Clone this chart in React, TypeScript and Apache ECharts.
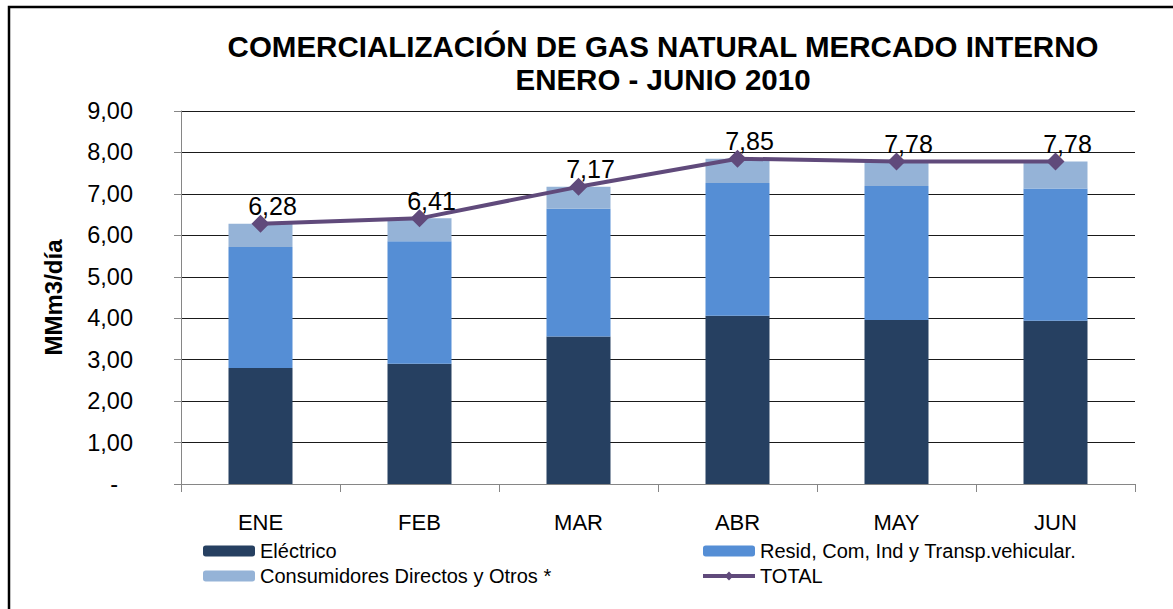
import React, { useEffect, useRef } from "react";
import * as echarts from "echarts";

const categories = ["ENE", "FEB", "MAR", "ABR", "MAY", "JUN"];
const electrico = [2.8, 2.9, 3.56, 4.06, 3.96, 3.94];
const residencial = [2.92, 2.96, 3.08, 3.2, 3.23, 3.19];
const consumidores = [0.56, 0.55, 0.53, 0.59, 0.59, 0.65];
const total = [6.28, 6.41, 7.17, 7.85, 7.78, 7.78];

const titleLines = ["COMERCIALIZACIÓN DE GAS NATURAL MERCADO INTERNO", "ENERO - JUNIO 2010"];
const yAxisName = "MMm3/día";
const seriesNames = [
  "Eléctrico",
  "Resid, Com, Ind y Transp.vehicular.",
  "Consumidores Directos y Otros *",
  "TOTAL",
];

const FONT = "'Liberation Sans', Arial, sans-serif";
const fmt = (v: number) => v.toFixed(2).replace(".", ",");

export default function App() {
  const ref = useRef<HTMLDivElement>(null);
  useEffect(() => {
    if (!ref.current) return;
    const chart = echarts.init(ref.current, undefined, { renderer: "svg" });
    const legendCommon = {
      orient: "vertical",
      top: 541,
      padding: 0,
      itemWidth: 52,
      itemHeight: 11,
      itemGap: 5,
      textStyle: { fontFamily: FONT, fontSize: 20, color: "#000", lineHeight: 20 },
    };
    chart.setOption({
      animation: false,
      backgroundColor: "#ffffff",
      textStyle: { fontFamily: FONT },
      title: {
        text: titleLines.join("\n"),
        left: 663,
        top: 30,
        padding: 0,
        textAlign: "center",
        textStyle: { fontFamily: FONT, fontSize: 29.5, fontWeight: "bold", color: "#000", lineHeight: 33 },
      },
      graphic: [
        {
          type: "rect",
          shape: { x: 9, y: 7, width: 1200, height: 700 },
          style: { fill: "none", stroke: "#000", lineWidth: 2.5 },
          silent: true,
        },
      ],
      legend: [
        {
          ...legendCommon,
          left: 203,
          data: [seriesNames[0], seriesNames[2]],
        },
        {
          ...legendCommon,
          left: 701,
          data: [
            seriesNames[1],
            { name: seriesNames[3], lineStyle: { width: 4 } },
          ],
        },
      ],
      grid: { left: 181, right: 38, top: 111, bottom: 125, containLabel: false },
      xAxis: {
        type: "category",
        data: categories,
        axisLine: { lineStyle: { color: "#868686", width: 1 } },
        axisTick: { show: true, length: 8, lineStyle: { color: "#868686" } },
        axisLabel: { margin: 27, fontFamily: FONT, fontSize: 22, color: "#000" },
      },
      yAxis: {
        type: "value",
        min: 0,
        max: 9,
        interval: 1,
        name: yAxisName,
        nameLocation: "middle",
        nameGap: 116,
        nameTextStyle: { fontFamily: FONT, fontSize: 24, fontWeight: "bold", color: "#000" },
        axisLine: { show: true, lineStyle: { color: "#868686", width: 1 } },
        axisTick: { show: true, length: 7, lineStyle: { color: "#868686" } },
        splitLine: { lineStyle: { color: "#1a1a1a", width: 1 } },
        axisLabel: {
          margin: 48,
          fontFamily: FONT,
          fontSize: 23.5,
          color: "#000",
          formatter: (v: number) => (v === 0 ? "{d|-}" : fmt(v)),
          rich: { d: { fontFamily: FONT, fontSize: 23.5, color: "#000", padding: [0, 15, 0, 0] } },
        },
      },
      series: [
        {
          name: seriesNames[0],
          type: "bar",
          stack: "gas",
          barWidth: 64,
          data: electrico,
          itemStyle: { color: "#264061" },
        },
        {
          name: seriesNames[1],
          type: "bar",
          stack: "gas",
          barWidth: 64,
          data: residencial,
          itemStyle: { color: "#558ED5" },
        },
        {
          name: seriesNames[2],
          type: "bar",
          stack: "gas",
          barWidth: 64,
          data: consumidores,
          itemStyle: { color: "#95B3D7" },
        },
        {
          name: seriesNames[3],
          type: "line",
          data: total,
          symbol: "diamond",
          symbolSize: 18,
          lineStyle: { color: "#604A7B", width: 4 },
          itemStyle: { color: "#604A7B" },
          z: 5,
          label: {
            show: true,
            position: "top",
            distance: 5,
            offset: [12, 9],
            fontFamily: FONT,
            fontSize: 25,
            color: "#000",
            formatter: (p: any) => fmt(p.value),
          },
        },
      ],
    });
    return () => chart.dispose();
  }, []);
  return (
    <div
      ref={ref}
      style={{ position: "absolute", left: 0, top: 0, width: 1173, height: 609, background: "#fff" }}
    />
  );
}
